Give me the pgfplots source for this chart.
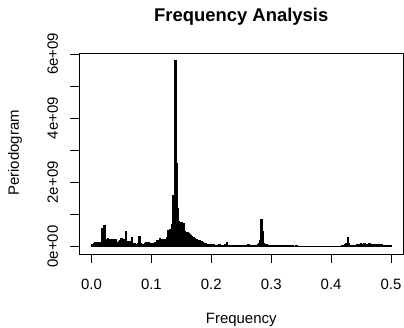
\documentclass[border=0pt]{standalone}
\usepackage{fontspec}
\setmainfont{Liberation Sans}
\usepackage{pgfplots}
\pgfplotsset{compat=1.18}
\begin{document}
\begin{tikzpicture}
\useasboundingbox (-79.5bp,-74bp) rectangle (324.5bp,254bp);
\begin{axis}[
  at={(0,0)}, anchor=south west,
  scale only axis, width=323.5bp, height=201bp,
  xmin=-0.02, xmax=0.52, ymin=-0.232, ymax=6.03,
  axis line style={line width=0.9bp},
  xtick={0,0.1,0.2,0.3,0.4,0.5},
  xticklabels={0.0,0.1,0.2,0.3,0.4,0.5},
  ytick={0,1,2,3,4,5,6},
  yticklabels={0e+00,,2e+09,,4e+09,,6e+09},
  xtick pos=bottom, ytick pos=left,
  tick align=outside, major tick length=9bp,
  every tick/.style={black, line width=0.8bp},
  tick label style={font=\fontsize{15}{15}\selectfont},
  xticklabel style={yshift=-13bp},
  yticklabel style={rotate=90, anchor=south, yshift=9bp},
  clip=false,
]
\addplot[ycomb, black, line width=2.4bp, line cap=butt, no marks] table[row sep=\\] {
x y\\
0.002 0.08\\ 0.004 0.12\\ 0.006 0.13\\ 0.008 0.11\\ 0.010 0.14\\ 0.012 0.13\\ 0.014 0.12\\ 0.016 0.15\\ 0.018 0.58\\ 0.020 0.16\\
0.022 0.68\\ 0.024 0.22\\ 0.026 0.18\\ 0.028 0.28\\ 0.030 0.20\\ 0.032 0.25\\ 0.034 0.18\\ 0.036 0.24\\ 0.038 0.17\\ 0.040 0.22\\
0.042 0.15\\ 0.044 0.12\\ 0.046 0.16\\ 0.048 0.20\\ 0.050 0.27\\ 0.052 0.18\\ 0.054 0.22\\ 0.056 0.15\\ 0.058 0.47\\ 0.060 0.16\\
0.062 0.12\\ 0.064 0.18\\ 0.066 0.14\\ 0.068 0.31\\ 0.070 0.12\\ 0.072 0.10\\ 0.074 0.08\\ 0.076 0.09\\ 0.078 0.12\\ 0.080 0.34\\
0.082 0.10\\ 0.084 0.08\\ 0.086 0.09\\ 0.088 0.07\\ 0.090 0.10\\ 0.092 0.14\\ 0.094 0.11\\ 0.096 0.13\\ 0.098 0.09\\ 0.100 0.12\\
0.102 0.10\\ 0.104 0.08\\ 0.106 0.15\\ 0.108 0.11\\ 0.110 0.20\\ 0.112 0.13\\ 0.114 0.26\\ 0.116 0.17\\ 0.118 0.24\\ 0.120 0.14\\
0.122 0.22\\ 0.124 0.18\\ 0.126 0.30\\ 0.128 0.53\\ 0.130 0.38\\ 0.132 0.55\\ 0.134 0.70\\ 0.136 1.60\\ 0.138 1.45\\ 0.140 5.80\\
0.142 2.60\\ 0.144 1.20\\ 0.146 0.81\\ 0.148 0.78\\ 0.150 0.76\\ 0.152 0.74\\ 0.154 0.73\\ 0.156 0.50\\ 0.158 0.45\\ 0.160 0.44\\
0.162 0.42\\ 0.164 0.40\\ 0.166 0.36\\ 0.168 0.32\\ 0.170 0.30\\ 0.172 0.28\\ 0.174 0.25\\ 0.176 0.22\\ 0.178 0.21\\ 0.180 0.20\\
0.182 0.18\\ 0.184 0.16\\ 0.186 0.14\\ 0.188 0.12\\ 0.190 0.10\\ 0.192 0.09\\ 0.194 0.08\\ 0.196 0.08\\ 0.198 0.07\\ 0.200 0.07\\
0.202 0.06\\ 0.204 0.07\\ 0.206 0.05\\ 0.208 0.06\\ 0.210 0.06\\ 0.212 0.05\\ 0.214 0.07\\ 0.216 0.06\\ 0.218 0.05\\ 0.220 0.06\\
0.222 0.05\\ 0.224 0.07\\ 0.226 0.14\\ 0.228 0.06\\ 0.230 0.05\\ 0.232 0.06\\ 0.234 0.05\\ 0.236 0.04\\ 0.238 0.06\\ 0.240 0.05\\
0.242 0.06\\ 0.244 0.05\\ 0.246 0.04\\ 0.248 0.05\\ 0.250 0.06\\ 0.252 0.05\\ 0.254 0.04\\ 0.256 0.05\\ 0.258 0.06\\ 0.260 0.05\\
0.262 0.07\\ 0.264 0.05\\ 0.266 0.04\\ 0.268 0.03\\ 0.270 0.05\\ 0.272 0.04\\ 0.274 0.06\\ 0.276 0.05\\ 0.278 0.08\\ 0.280 0.10\\
0.282 0.20\\ 0.284 0.86\\ 0.286 0.50\\ 0.288 0.12\\ 0.290 0.05\\ 0.292 0.07\\ 0.294 0.06\\ 0.296 0.05\\ 0.298 0.06\\ 0.300 0.05\\
0.302 0.05\\ 0.304 0.06\\ 0.306 0.05\\ 0.308 0.04\\ 0.310 0.05\\ 0.312 0.06\\ 0.314 0.05\\ 0.316 0.04\\ 0.318 0.05\\ 0.320 0.04\\
0.322 0.03\\ 0.324 0.05\\ 0.326 0.04\\ 0.328 0.03\\ 0.330 0.04\\ 0.332 0.05\\ 0.334 0.03\\ 0.336 0.04\\ 0.338 0.03\\ 0.340 0.03\\
0.342 0.04\\ 0.344 0.03\\ 0.346 0.02\\ 0.348 0.03\\ 0.350 0.02\\ 0.352 0.03\\ 0.354 0.02\\ 0.356 0.02\\ 0.358 0.03\\ 0.360 0.02\\
0.362 0.02\\ 0.364 0.03\\ 0.366 0.02\\ 0.368 0.02\\ 0.370 0.03\\ 0.372 0.02\\ 0.374 0.02\\ 0.376 0.03\\ 0.378 0.02\\ 0.380 0.02\\
0.382 0.03\\ 0.384 0.02\\ 0.386 0.02\\ 0.388 0.03\\ 0.390 0.02\\ 0.392 0.02\\ 0.394 0.03\\ 0.396 0.02\\ 0.398 0.02\\ 0.400 0.03\\
0.402 0.02\\ 0.404 0.02\\ 0.406 0.03\\ 0.408 0.02\\ 0.410 0.03\\ 0.412 0.02\\ 0.414 0.03\\ 0.416 0.02\\ 0.418 0.04\\ 0.420 0.03\\
0.422 0.05\\ 0.424 0.08\\ 0.426 0.12\\ 0.428 0.31\\ 0.430 0.10\\ 0.432 0.05\\ 0.434 0.04\\ 0.436 0.06\\ 0.438 0.05\\ 0.440 0.04\\
0.442 0.06\\ 0.444 0.08\\ 0.446 0.05\\ 0.448 0.07\\ 0.450 0.10\\ 0.452 0.06\\ 0.454 0.08\\ 0.456 0.12\\ 0.458 0.07\\ 0.460 0.09\\
0.462 0.06\\ 0.464 0.10\\ 0.466 0.07\\ 0.468 0.08\\ 0.470 0.06\\ 0.472 0.07\\ 0.474 0.09\\ 0.476 0.06\\ 0.478 0.08\\ 0.480 0.07\\
0.482 0.06\\ 0.484 0.07\\ 0.486 0.05\\ 0.488 0.06\\ 0.490 0.05\\ 0.492 0.06\\ 0.494 0.04\\ 0.496 0.05\\ 0.498 0.04\\ 0.500 0.05\\
};
\end{axis}
\node[font=\bfseries\fontsize{18.5}{18.5}\selectfont] at (161.75bp,237bp) {Frequency Analysis};
\node[font=\fontsize{15}{15}\selectfont] at (161.75bp,-66bp) {Frequency};
\node[font=\fontsize{15}{15}\selectfont, rotate=90] at (-64.5bp,101bp) {Periodogram};
\end{tikzpicture}
\end{document}
